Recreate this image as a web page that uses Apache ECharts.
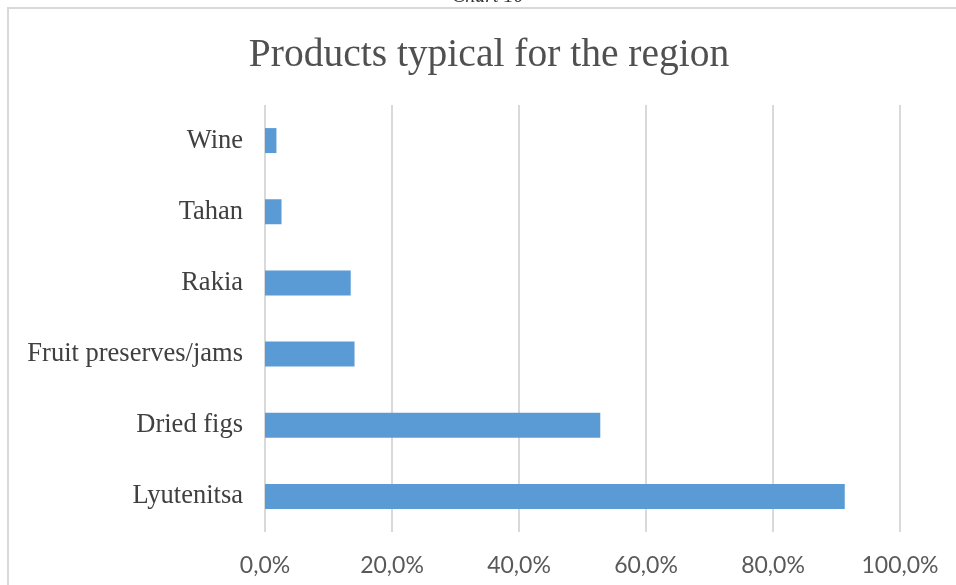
<!DOCTYPE html>
<html>
<head>
<meta charset="utf-8">
<script src="https://cdn.jsdelivr.net/npm/echarts@6/dist/echarts.min.js"></script>
<style>
  html, body { margin: 0; padding: 0; background: #fff; }
  #chart { width: 956px; height: 585px; }
</style>
</head>
<body>
<div id="chart"></div>
<script>
// data, bottom to top as the category axis draws it
const categories = ['Lyutenitsa', 'Dried figs', 'Fruit preserves/jams', 'Rakia', 'Tahan', 'Wine']
const shares = [91.3, 52.8, 14.1, 13.5, 2.6, 1.8]
const tickValues = [0, 20, 40, 60, 80, 100]

const chart = echarts.init(document.getElementById('chart'))

// 0 -> "0,0%"
function pct(v) {
  return v.toFixed(1).replace('.', ',') + '%'
}

const option = {
  backgroundColor: '#fff',
  animation: false,
  title: {
    text: 'Products typical for the region',
    left: 484,
    textAlign: 'center',
    top: 31,
    textStyle: {
      fontFamily: 'Liberation Serif',
      fontSize: 39.5,
      fontWeight: 'normal',
      color: '#505050'
    }
  },
  graphic: [
    // caption above the chart, mostly cut off
    {
      type: 'text',
      x: 452,
      y: -13,
      style: {
        text: 'Chart 10',
        font: 'italic 20px "Liberation Serif"',
        fill: '#333'
      }
    },
    // chart frame (top and left edges)
    {
      type: 'polyline',
      shape: { points: [[8, 600], [8, 8], [960, 8]] },
      style: { stroke: '#d9d9d9', lineWidth: 2, fill: null }
    }
  ],
  grid: {
    left: 265,
    right: 56,
    top: 105,
    bottom: 53
  },
  xAxis: {
    type: 'value',
    min: tickValues[0],
    max: tickValues[tickValues.length - 1],
    interval: 20,
    axisLine: { show: false },
    axisTick: { show: false },
    splitLine: { lineStyle: { color: '#d9d9d9', width: 2 } },
    axisLabel: {
      margin: 22,
      formatter: pct,
      fontFamily: 'Lato',
      fontSize: 23,
      color: '#595959'
    }
  },
  yAxis: {
    type: 'category',
    data: categories,
    axisLine: { show: false },
    axisTick: { show: false },
    axisLabel: {
      margin: 22,
      fontFamily: 'Liberation Serif',
      fontSize: 26.5,
      color: '#404040',
      padding: [10, 0, 0, 0]
    }
  },
  series: [
    {
      type: 'bar',
      data: shares,
      barWidth: 25,
      itemStyle: { color: '#5b9bd5' }
    }
  ]
}

chart.setOption(option)
</script>
</body>
</html>
